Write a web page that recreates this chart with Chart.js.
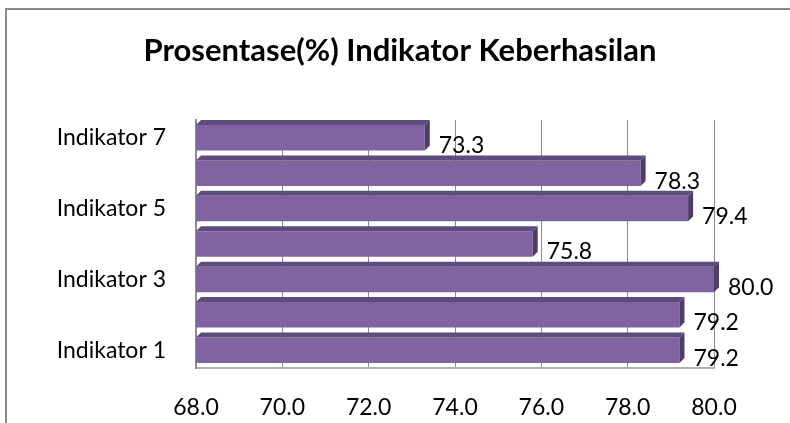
<!DOCTYPE html>
<html>
<head>
<meta charset="utf-8">
<script src="https://cdn.jsdelivr.net/npm/chart.js@4"></script>
<style>
  html, body { margin: 0; padding: 0; background: #fff; }
  #wrap { width: 790px; height: 423px; }
</style>
</head>
<body>
<div id="wrap"><canvas id="barChart"></canvas></div>
<script>
const categories = ['Indikator 1', 'Indikator 2', 'Indikator 3', 'Indikator 4', 'Indikator 5', 'Indikator 6', 'Indikator 7'];
const values = [79.2, 79.2, 80.0, 75.8, 79.4, 78.3, 73.3];
const axisMin = 68;
const axisMax = 80;
const axisStep = 2;
const titleText = 'Prosentase(%) Indikator Keberhasilan';

const barColor = '#8064a2';
const fontName = 'Lato, "Liberation Sans", sans-serif';

// frame round the chart and the title, centred on the whole picture
const framePlugin = {
  id: 'frame',
  beforeDraw(chart) {
    const c = chart.ctx;
    c.save();
    c.strokeStyle = '#8a8a8a';
    c.lineWidth = 2;
    c.beginPath();
    c.moveTo(6, 423);
    c.lineTo(6, 9);
    c.lineTo(790, 9);
    c.stroke();
    c.fillStyle = '#000';
    c.font = 'bold 31px ' + fontName;
    c.textAlign = 'center';
    c.textBaseline = 'middle';
    c.fillText(titleText, 400, 51);
    c.restore();
  }
};

// fake 3d: darker top and end faces, then the value text
const bar3d = {
  id: 'bar3d',
  afterDatasetsDraw(chart) {
    const c = chart.ctx;
    const meta = chart.getDatasetMeta(0);
    const left = chart.chartArea.left;
    const d = 5;
    c.save();
    meta.data.forEach((bar, i) => {
      const p = bar.getProps(['x', 'y', 'height'], true);
      const top = p.y - p.height / 2;
      const bot = p.y + p.height / 2;
      c.fillStyle = '#5f4a7d';
      c.beginPath();
      c.moveTo(left, top);
      c.lineTo(left + d, top - d);
      c.lineTo(p.x + d, top - d);
      c.lineTo(p.x, top);
      c.closePath();
      c.fill();
      c.fillStyle = '#4f3d69';
      c.beginPath();
      c.moveTo(p.x, top);
      c.lineTo(p.x + d, top - d);
      c.lineTo(p.x + d, bot - d);
      c.lineTo(p.x, bot);
      c.closePath();
      c.fill();
      c.fillStyle = '#000';
      c.font = '23px ' + fontName;
      c.textBaseline = 'middle';
      c.textAlign = 'left';
      c.fillText(values[i].toFixed(1), p.x + 14, p.y + 8);
    });
    c.restore();
  }
};

new Chart(document.getElementById('barChart'), {
  type: 'bar',
  data: {
    labels: categories,
    datasets: [{
      data: values,
      backgroundColor: barColor,
      categoryPercentage: 1,
      barPercentage: 0.72
    }]
  },
  options: {
    indexAxis: 'y',
    responsive: true,
    maintainAspectRatio: false,
    animation: false,
    layout: { padding: { left: 0, right: 76, top: 120, bottom: 0 } },
    plugins: {
      legend: { display: false },
      tooltip: { enabled: false },
      title: { display: false }
    },
    scales: {
      x: {
        min: axisMin,
        max: axisMax,
        ticks: {
          stepSize: axisStep,
          color: '#000',
          padding: 26,
          font: { family: fontName, size: 23 },
          callback: v => Number(v).toFixed(1)
        },
        grid: { color: '#8c8c8c', drawTicks: false },
        border: { color: '#b0b0b0', width: 2 },
        afterFit(scale) { scale.height = 55; }
      },
      y: {
        reverse: true,
        ticks: {
          color: '#000',
          padding: 22,
          autoSkip: false,
          font: { family: fontName, size: 23 },
          callback(v, i) { return i % 2 === 0 ? categories[i] : ''; }
        },
        grid: { display: false },
        border: { color: '#8c8c8c', width: 2 },
        afterFit(scale) { scale.width = 196; }
      }
    }
  },
  plugins: [framePlugin, bar3d]
});
</script>
</body>
</html>
